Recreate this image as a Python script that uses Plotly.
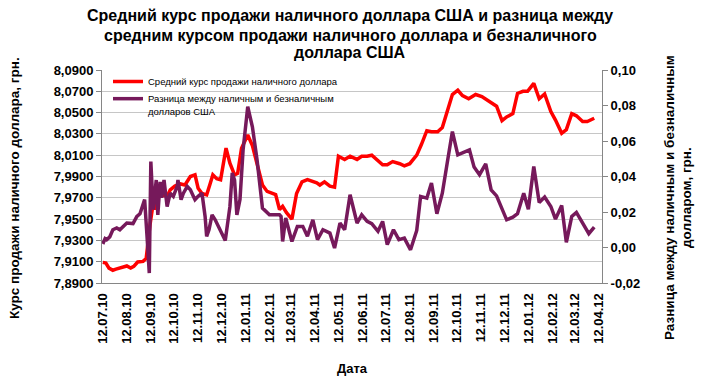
import plotly.graph_objects as go

# ---------------- data ----------------
cash_dates = ["2010-07-12","2010-07-16","2010-07-20","2010-07-25","2010-07-29","2010-08-03","2010-08-07","2010-08-12","2010-08-17","2010-08-21","2010-08-26","2010-09-02","2010-09-06","2010-09-08","2010-09-11","2010-09-15","2010-09-17","2010-09-21","2010-09-26","2010-10-03","2010-10-07","2010-10-13","2010-10-20","2010-10-26","2010-11-02","2010-11-08","2010-11-12","2010-11-17","2010-11-23","2010-11-27","2010-12-01","2010-12-06","2010-12-11","2010-12-18","2010-12-23","2010-12-29","2011-01-02","2011-01-07","2011-01-15","2011-01-21","2011-01-28","2011-02-03","2011-02-09","2011-02-15","2011-02-20","2011-02-25","2011-03-01","2011-03-06","2011-03-13","2011-03-19","2011-03-26","2011-04-02","2011-04-14","2011-04-18","2011-04-24","2011-05-01","2011-05-07","2011-05-12","2011-05-20","2011-05-27","2011-06-05","2011-06-11","2011-06-18","2011-06-24","2011-06-30","2011-07-08","2011-07-14","2011-07-21","2011-07-30","2011-08-05","2011-08-12","2011-08-21","2011-08-27","2011-09-03","2011-09-09","2011-09-17","2011-09-23","2011-09-30","2011-10-06","2011-10-13","2011-10-19","2011-10-27","2011-11-05","2011-11-13","2011-11-19","2011-11-26","2011-12-02","2011-12-09","2011-12-15","2011-12-23","2011-12-29","2012-01-05","2012-01-11","2012-01-19","2012-01-26","2012-02-02","2012-02-10","2012-02-16","2012-02-24","2012-03-01","2012-03-08","2012-03-14","2012-03-22","2012-03-28","2012-04-06"]
cash_rate = [7.9094,7.9088,7.904,7.902,7.903,7.904,7.905,7.906,7.904,7.9056,7.9097,7.9103,7.913,7.928,7.945,7.965,7.959,7.970,7.9728,7.9713,7.9775,7.981,7.983,7.982,7.990,7.9916,7.979,7.974,7.9728,7.982,7.9916,7.988,7.987,8.0166,8.0025,7.9916,7.993,8.0166,8.029,8.019,8.000,7.982,7.976,7.974,7.973,7.959,7.962,7.956,7.950,7.974,7.985,7.987,7.984,7.982,7.985,7.981,7.980,8.009,8.006,8.009,8.006,8.009,8.009,8.010,8.006,8.001,8.001,8.004,8.002,8.000,8.002,8.010,8.020,8.033,8.032,8.032,8.036,8.054,8.067,8.071,8.066,8.063,8.067,8.065,8.062,8.058,8.056,8.0425,8.046,8.049,8.068,8.070,8.070,8.0775,8.063,8.0675,8.051,8.043,8.0306,8.034,8.049,8.047,8.0416,8.0416,8.0447]

diff_dates = ["2010-07-12","2010-07-15","2010-07-17","2010-07-21","2010-07-25","2010-07-30","2010-08-03","2010-08-12","2010-08-20","2010-08-25","2010-08-29","2010-09-02","2010-09-04","2010-09-07","2010-09-10","2010-09-12","2010-09-15","2010-09-19","2010-09-21","2010-09-24","2010-09-26","2010-09-29","2010-10-03","2010-10-07","2010-10-11","2010-10-16","2010-10-17","2010-10-21","2010-10-24","2010-10-29","2010-11-02","2010-11-06","2010-11-08","2010-11-12","2010-11-17","2010-11-21","2010-11-23","2010-11-26","2010-11-30","2010-12-04","2010-12-08","2010-12-13","2010-12-17","2010-12-23","2010-12-26","2010-12-29","2011-01-01","2011-01-05","2011-01-09","2011-01-15","2011-01-21","2011-01-27","2011-02-03","2011-02-12","2011-02-25","2011-02-27","2011-03-01","2011-03-05","2011-03-13","2011-03-20","2011-03-27","2011-04-02","2011-04-09","2011-04-15","2011-04-22","2011-05-01","2011-05-07","2011-05-14","2011-05-20","2011-05-27","2011-06-05","2011-06-11","2011-06-18","2011-06-24","2011-07-02","2011-07-08","2011-07-14","2011-07-22","2011-07-29","2011-08-05","2011-08-13","2011-08-21","2011-08-26","2011-09-03","2011-09-09","2011-09-16","2011-09-23","2011-09-30","2011-10-06","2011-10-13","2011-10-19","2011-10-28","2011-11-03","2011-11-10","2011-11-18","2011-11-25","2011-12-02","2011-12-09","2011-12-15","2011-12-23","2011-12-29","2012-01-06","2012-01-12","2012-01-19","2012-01-26","2012-02-02","2012-02-10","2012-02-16","2012-02-24","2012-03-01","2012-03-08","2012-03-14","2012-03-22","2012-03-30","2012-04-06"]
diff_value = [0.002,0.005,0.0044,0.006,0.010,0.011,0.010,0.0138,0.0135,0.0175,0.019,0.025,0.027,0.007,-0.0144,0.0484,0.0213,0.038,0.0184,0.037,0.028,0.038,0.0231,0.0306,0.0288,0.0344,0.038,0.0269,0.0306,0.0344,0.0325,0.0288,0.0269,0.0288,0.0306,0.0175,0.0063,0.010,0.0184,0.0156,0.0119,0.0072,0.004,0.023,0.042,0.038,0.0184,0.027,0.055,0.0794,0.068,0.0494,0.0222,0.0184,0.0184,0.0175,0.0034,0.0166,0.0034,0.0119,0.0119,0.0063,0.0156,0.0044,0.010,0.0081,-0.0003,0.0138,0.010,0.0297,0.0138,0.0184,0.0147,0.0134,0.0091,0.0147,0.0016,0.010,0.0044,0.0053,-0.0013,0.0096,0.0288,0.0278,0.0363,0.019,0.0306,0.0494,0.0653,0.0522,0.0535,0.055,0.0453,0.041,0.0471,0.0325,0.0291,0.0222,0.0156,0.0171,0.019,0.0306,0.0216,0.0456,0.0254,0.0284,0.0231,0.016,0.0237,0.0029,0.0175,0.0198,0.0141,0.0078,0.0115]

x_tick_vals = ["2010-07-12","2010-08-12","2010-09-12","2010-10-12","2010-11-12","2010-12-12","2011-01-12","2011-02-12","2011-03-12","2011-04-12","2011-05-12","2011-06-12","2011-07-12","2011-08-12","2011-09-12","2011-10-12","2011-11-12","2011-12-12","2012-01-12","2012-02-12","2012-03-12","2012-04-12"]
x_tick_text = ["12.07.10","12.08.10","12.09.10","12.10.10","12.11.10","12.12.10","12.01.11","12.02.11","12.03.11","12.04.11","12.05.11","12.06.11","12.07.11","12.08.11","12.09.11","12.10.11","12.11.11","12.12.11","12.01.12","12.02.12","12.03.12","12.04.12"]
left_tick_vals = [7.89,7.91,7.93,7.95,7.97,7.99,8.01,8.03,8.05,8.07,8.09]
left_tick_text = ["7,8900","7,9100","7,9300","7,9500","7,9700","7,9900","8,0100","8,0300","8,0500","8,0700","8,0900"]
right_tick_vals = [-0.02,0.0,0.02,0.04,0.06,0.08,0.10]
right_tick_text = ["-0,02","0,00","0,02","0,04","0,06","0,08","0,10"]

name_cash = "Средний курс продажи наличного доллара"
name_diff = "Разница между наличным и безналичным<br>долларов США"
title_lines = ["Средний курс продажи наличного доллара США и разница между",
               "средним курсом продажи наличного доллара и безналичного",
               "доллара США"]
left_title = "Курс продажи наличного доллара, грн."
right_title_lines = ["Разница между наличным и безналичным", "долларом, грн."]
x_title = "Дата"

FONT = "Liberation Sans, Arial, sans-serif"
GRAY = "#868686"

# plot area in pixels: x 102..602, y 70..283
PL, PR, PT, PB = 102, 602, 70, 283


def px_x(p):
    return (p - PL) / (PR - PL)


def px_y(p):
    return (PB - p) / (PB - PT)


fig = go.Figure()
fig.add_trace(go.Scatter(x=cash_dates, y=cash_rate, mode="lines", name=name_cash,
                         line=dict(color="#FF0000", width=3.5), legend="legend"))
fig.add_trace(go.Scatter(x=diff_dates, y=diff_value, mode="lines", name=name_diff,
                         line=dict(color="#76195B", width=3.5), yaxis="y2", legend="legend2"))

annotations = []
for line, py in zip(title_lines, [16, 35, 53]):
    annotations.append(dict(text="<b>%s</b>" % line, xref="paper", yref="paper",
                            x=px_x(350), y=px_y(py), xanchor="center", yanchor="middle",
                            showarrow=False, font=dict(size=16, family=FONT)))
annotations.append(dict(text="<b>%s</b>" % left_title, textangle=-90, xref="paper", yref="paper",
                        x=px_x(14), y=px_y(188), xanchor="center", yanchor="middle",
                        showarrow=False, font=dict(size=13.5, family=FONT)))
for line, pxx in zip(right_title_lines, [669, 686]):
    annotations.append(dict(text="<b>%s</b>" % line, textangle=-90, xref="paper", yref="paper",
                            x=px_x(pxx), y=px_y(198), xanchor="center", yanchor="middle",
                            showarrow=False, font=dict(size=13.5, family=FONT)))
annotations.append(dict(text="<b>%s</b>" % x_title, xref="paper", yref="paper",
                        x=px_x(352), y=px_y(368), xanchor="center", yanchor="middle",
                        showarrow=False, font=dict(size=13, family=FONT)))

fig.update_layout(
    width=703, height=384,
    margin=dict(l=PL, r=703 - PR, t=PT, b=384 - PB),
    paper_bgcolor="white", plot_bgcolor="white",
    font=dict(family=FONT, color="black"),
    showlegend=True,
    xaxis=dict(type="date", range=["2010-07-11", "2012-04-16"],
               tickvals=x_tick_vals, ticktext=["<b>%s</b>" % t for t in x_tick_text],
               tickangle=-90, tickfont=dict(size=13), showgrid=False,
               showline=True, linecolor=GRAY, linewidth=1, ticks="", ticklabelstandoff=4,
               zeroline=False),
    yaxis=dict(range=[7.89, 8.09], tickvals=left_tick_vals,
               ticktext=["<b>%s</b>" % t for t in left_tick_text],
               tickfont=dict(size=13), showgrid=True, gridcolor="#C6C6C6", gridwidth=1,
               showline=True, linecolor=GRAY, ticks="outside", ticklen=5, tickcolor=GRAY,
               zeroline=False),
    yaxis2=dict(range=[-0.02, 0.10], tickvals=right_tick_vals,
                ticktext=["<b>%s</b>" % t for t in right_tick_text],
                tickfont=dict(size=13), overlaying="y", side="right", showgrid=False,
                showline=True, linecolor=GRAY, ticks="outside", ticklen=5, tickcolor=GRAY,
                zeroline=False),
    legend=dict(x=px_x(108), y=px_y(67), xanchor="left", yanchor="top", bgcolor="rgba(0,0,0,0)",
                font=dict(size=9.5, family=FONT), borderwidth=0),
    legend2=dict(x=px_x(108), y=px_y(86), xanchor="left", yanchor="top", bgcolor="rgba(0,0,0,0)",
                 font=dict(size=9.5, family=FONT), borderwidth=0, valign="top"),
    annotations=annotations,
)

fig.write_html("out.html", config={"displayModeBar": False},
               post_script="document.body.style.margin='0px';")
